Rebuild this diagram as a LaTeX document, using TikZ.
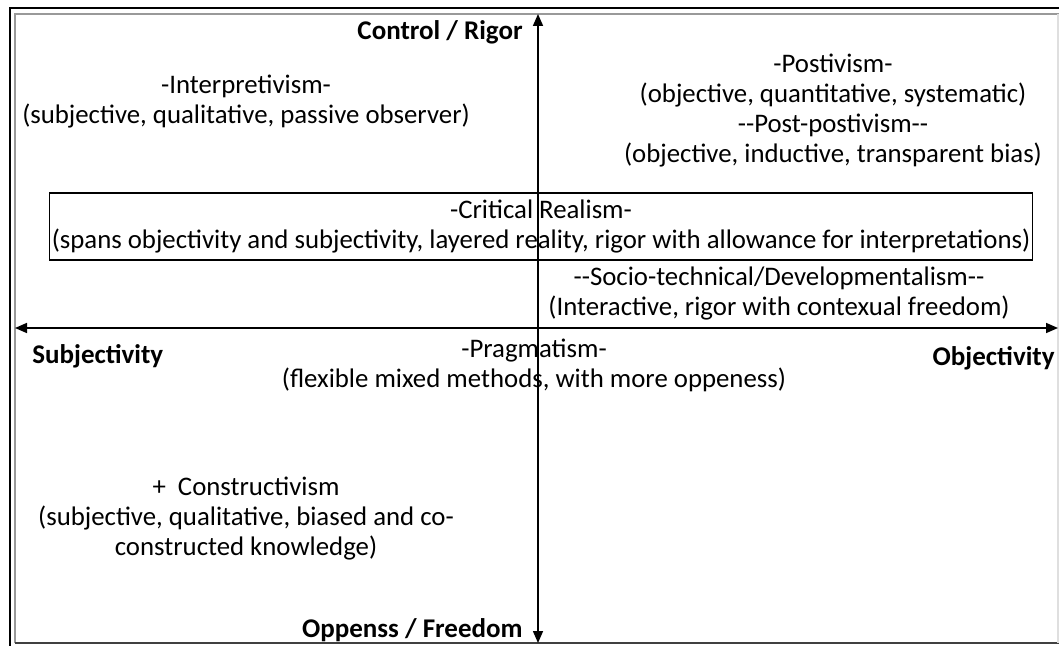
\documentclass[tikz,border=0pt]{standalone}
\usepackage{fontspec}
\setmainfont{Carlito}
\usepackage{xcolor}
\usetikzlibrary{arrows.meta}

\tikzset{
  txt/.style={align=center,inner sep=0pt,font=\fontsize{13.4}{15}\selectfont},
  lbl/.style={inner sep=0pt,font=\fontsize{13.5}{15}\selectfont\bfseries},
  axis/.style={line width=0.8pt,{Triangle[width=5pt,length=6pt]}-{Triangle[width=5pt,length=6pt]}}
}

\begin{document}
\begin{tikzpicture}[x=0.5pt,y=-0.5pt]
    \useasboundingbox (0,0) rectangle (1059,646);
    % frame
    \draw[line width=1pt,black] (10,646)--(10,8)--(1059,8);
    \draw[line width=1pt,gray!80] (15,643)--(15,14)--(1059,14);
    \draw[line width=1.4pt,black!75] (15,643)--(1059,643);
    \draw[line width=0.6pt,gray!25] (1058,14)--(1058,643);
    % axes
    \coordinate (top) at (538,14);
    \coordinate (bottom) at (538,643);
    \coordinate (left) at (15,328);
    \coordinate (right) at (1058,328);
    \draw[axis] (bottom)--(top);
    \draw[axis] (left)--(right);
    \node[lbl,anchor=east] (rigor) at (523,32) {Control / Rigor};
    \node[lbl,anchor=east] (freedom) at (523,630) {Oppenss / Freedom};
    \node[lbl,anchor=west] (subj) at (32,356) {Subjectivity};
    \node[lbl,anchor=east] (obj) at (1055,358) {Objectivity};
    % paradigms
    \node[txt] (interp) at (246,102) {-Interpretivism-\\(subjective, qualitative, passive observer)};
    \node[txt] (posit) at (833,111) {-Postivism-\\(objective, quantitative, systematic)\\-{}-Post-postivism-{}-\\(objective, inductive, transparent bias)};
    \node[txt,draw,line width=0.6pt,inner xsep=1pt,minimum width=488pt,minimum height=33.5pt] (crit) at (541,226.5) {-Critical Realism-\\(spans objectivity and subjectivity, layered reality, rigor with allowance for interpretations)};
    \node[txt] (socio) at (779,293.5) {-{}-Socio-technical/Developmentalism-{}-\\(Interactive, rigor with contexual freedom)};
    \node[txt] (prag) at (534,365) {-Pragmatism-\\(flexible mixed methods, with more oppeness)};
    \node[txt] (constr) at (246,519) {+\ \ Constructivism\\(subjective, qualitative, biased and co-\\constructed knowledge)};
\end{tikzpicture}
\end{document}
